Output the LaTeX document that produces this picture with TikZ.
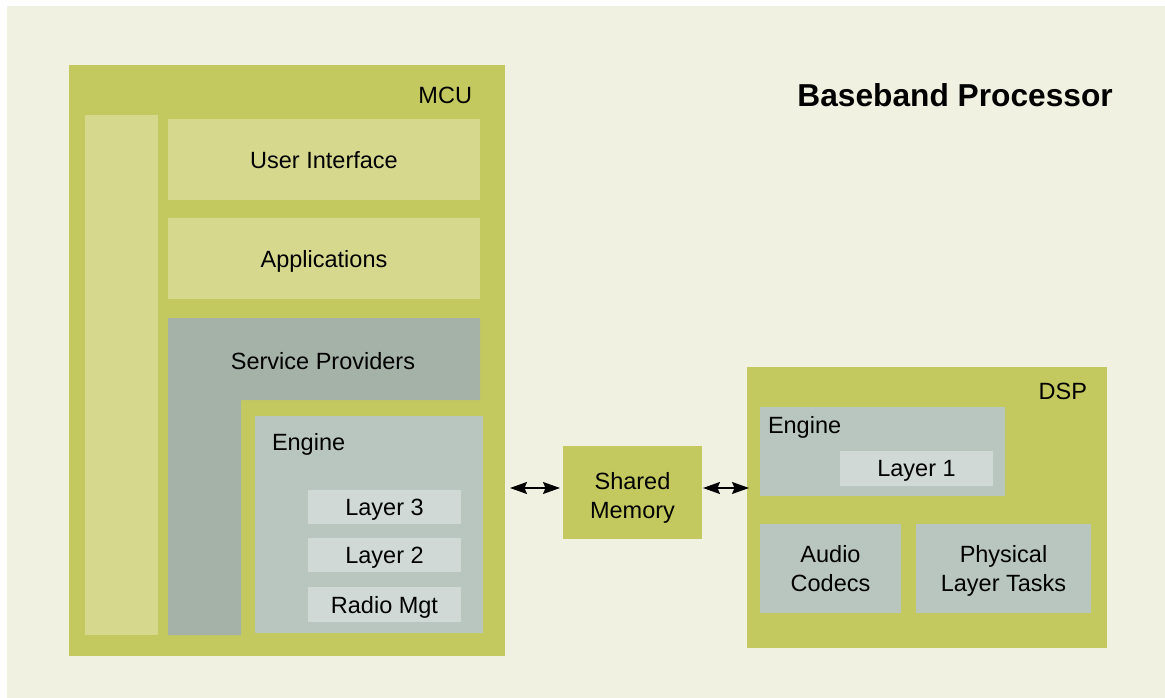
\documentclass[tikz,border=0pt]{standalone}
\usepackage{fontspec}
\setmainfont{Liberation Sans}
\usetikzlibrary{arrows.meta}
\definecolor{cream}{RGB}{241,241,226}
\definecolor{olive}{RGB}{195,201,94}
\definecolor{paleolive}{RGB}{214,217,141}
\definecolor{sage}{RGB}{165,178,168}
\definecolor{enginecol}{RGB}{185,198,191}
\definecolor{layercol}{RGB}{208,217,213}
\begin{document}
\begin{tikzpicture}[x=1pt,y=-1pt,
  box/.style={draw=none, inner sep=0pt, outer sep=0pt, anchor=north west, align=center,
    text depth=0pt, font=\fontsize{23.5}{28.5}\selectfont},
  lbl/.style={inner sep=0pt, outer sep=0pt, font=\fontsize{23.5}{28.5}\selectfont},
  tip/.tip={Stealth[length=17pt,width=12pt,inset=2.5pt]},
  arr/.style={tip-tip, line width=1.3pt, black}]
\useasboundingbox (0,0) rectangle (1165,698);
\fill[white] (0,0) rectangle (1165,698);
\fill[cream] (7,6) rectangle (1165,698);
% title
\node[inner sep=0pt, anchor=base east, font=\fontsize{31.7}{36}\selectfont\bfseries] (title) at (1113,107) {Baseband Processor};
% MCU
\node[box, fill=olive, minimum width=436pt, minimum height=591pt] (mcu) at (69,65) {};
\node[lbl, anchor=base east] (mculbl) at (472,104) {MCU};
\node[box, fill=paleolive, minimum width=73pt, minimum height=520pt] (strip) at (85,115) {};
\node[box, fill=paleolive, minimum width=312pt, minimum height=81pt] (ui) at (168,119) {User Interface};
\node[box, fill=paleolive, minimum width=312pt, minimum height=81pt] (apps) at (168,218) {Applications};
\fill[sage] (168,318) -- (480,318) -- (480,400) -- (241,400) -- (241,635) -- (168,635) -- cycle;
\node[lbl, anchor=base] (sp) at (323,369) {Service Providers};
\node[box, fill=enginecol, minimum width=228pt, minimum height=217pt] (eng) at (255,416) {};
\node[lbl, anchor=base west] (englbl) at (272,450) {Engine};
\node[box, fill=layercol, minimum width=153pt, minimum height=34pt] (l3) at (308,490) {Layer 3};
\node[box, fill=layercol, minimum width=153pt, minimum height=34pt] (l2) at (308,538) {Layer 2};
\node[box, fill=layercol, minimum width=153pt, minimum height=35pt] (rm) at (308,587) {Radio Mgt};
% Shared memory
\node[box, fill=olive, minimum width=139pt, minimum height=93pt] (sm) at (563,446) {};
\node[lbl, align=center, text depth=0pt] (smlbl) at ([yshift=-3pt]sm.center) {Shared\\Memory};
% DSP
\node[box, fill=olive, minimum width=360pt, minimum height=281pt] (dsp) at (747,367) {};
\node[lbl, anchor=base east] (dsplbl) at (1087,399) {DSP};
\node[box, fill=enginecol, minimum width=245pt, minimum height=89pt] (deng) at (760,407) {};
\node[lbl, anchor=base west] (denglbl) at (768,433) {Engine};
\node[box, fill=layercol, minimum width=153pt, minimum height=35pt] (l1) at (840,451) {Layer 1};
\node[box, fill=enginecol, minimum width=141pt, minimum height=89pt] (audio) at (760,524) {Audio\\Codecs};
\node[box, fill=enginecol, minimum width=175pt, minimum height=89pt] (phys) at (916,524) {Physical\\Layer Tasks};
% arrows
\coordinate (smL) at ([yshift=4.5pt]sm.west);
\coordinate (smR) at ([yshift=4.5pt]sm.east);
\draw[arr, shorten <=5pt, shorten >=3pt] (smL -| mcu.east) -- (smL);
\draw[arr, shorten <=1pt, shorten >=-2pt] (smR) -- (smR -| dsp.west);
\end{tikzpicture}
\end{document}
